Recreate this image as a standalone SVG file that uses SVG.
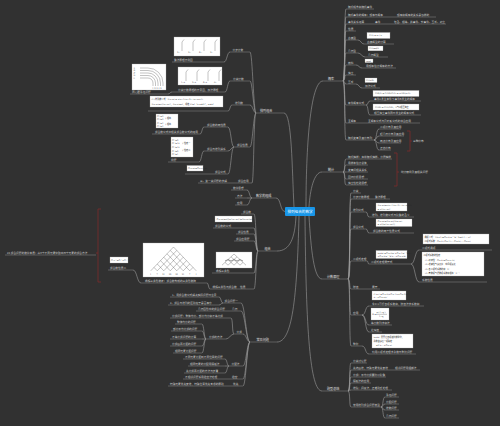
<svg xmlns="http://www.w3.org/2000/svg" width="500" height="426" viewBox="0 0 500 426">
<style>
.bg{fill:#313131}
.l{fill:none;stroke:#9c9c9c;stroke-width:.6}
.u{fill:none;stroke:#8c8c8c;stroke-width:.5}
.t{font-family:"Noto Sans CJK SC","Noto Sans",sans-serif;font-size:2.7px;fill:#cfcfcf}
.tb{font-family:"Noto Sans CJK SC","Noto Sans",sans-serif;font-size:3.1px;fill:#e2e2e2}
.b{fill:#fff;stroke:#aaa;stroke-width:.3}
.bt{font-family:"DejaVu Serif","Noto Sans CJK SC",serif;font-size:2.1px;fill:#222}
.g{fill:none;stroke:#333;stroke-width:.3}
.r{fill:none;stroke:#7d2b2b;stroke-width:.8}
</style>
<rect class="bg" width="500" height="426"/>
<g id="connectors" class="l">
<path d="M306 207C306 150 310 81 323 81"/>
<path d="M309 207C310 190 314 172 322 172"/>
<path d="M309 216C311 250 314 279 322 279"/>
<path d="M305 216C306 330 310 391 322 391"/>
<path d="M294 207C292 170 292 113 284 113"/>
<path d="M285 211.5C280 211.5 281 198 276 198"/>
<path d="M296 216C295 238 290 251 277 251"/>
<path d="M299 216C297 300 292 342 277 342"/>
<path d="M343 81C345.5 81 344 9 346 9M343 81C345.5 81 344 17 346 17M343 81C345.5 81 344 24 346 24M343 81C345.5 81 344 31 346 31M343 81C345.5 81 344 40 346 40M343 81C345.5 81 344 53 346 53M343 81C345.5 81 344 65 346 65M343 81C345.5 81 344 75 346 75M343 81C345.5 81 344 84 346 84M343 81C345.5 81 344 105 346 105M343 81C345.5 81 344 123 346 123M343 81C345.5 81 344 140 346 140"/>
<path d="M358 40C361 40 361 44 364 44M358 53C361 53 362 57 365 57M356 65C359 65 359 68 362 68M356 84C359 84 359 88 362 88M366 105C368.5 105 367.5 101 370 101M366 105C368.5 105 367.5 115 370 115M374 140C377 140 376 129 379 129M374 140C377 140 376 136 379 136M374 140C377 140 376 143 379 143M374 140C377 140 376 150 379 150"/>
<path d="M343 172C345.5 172 344 159 346 159M343 172C345.5 172 344 165 346 165M343 172H346M343 172C345.5 172 344 179 346 179M343 172C345.5 172 344 185 346 185"/>
<path d="M348 279C350.5 279 349 193 351 193M348 279C350.5 279 349 199 351 199M348 279C350.5 279 349 212 351 212M348 279C350.5 279 349 229 351 229M348 279C350.5 279 349 261 351 261M348 279C350.5 279 349 289 351 289M348 279C350.5 279 349 315 351 315M348 279C350.5 279 349 346 351 346"/>
<path d="M366 212C368 212 367 217 369 217M366 229C368 229 367 233 369 233M367 261C368.5 261 367.5 264 369 264M411 264C415 264 415 250 419 250M411 264C415 264 415 282 419 282M362 315C366 315 365 306 369 306M362 315C366 315 365 325 369 325M362 315C366 315 365 332 369 332M362 346C366 346 365 354 369 354"/>
<path d="M348 391C350.5 391 349 363 351 363M348 391C350.5 391 349 370 351 370M348 391C350.5 391 349 377 351 377M348 391C350.5 391 349 383 351 383M348 391C350.5 391 349 390 351 390M348 391C350.5 391 349 407 351 407"/>
<path d="M381 407C383.5 407 382.5 397 385 397M381 407C383.5 407 382.5 404 385 404M381 407C383.5 407 382.5 410 385 410M381 407C383.5 407 382.5 418 385 418"/>
<path d="M256 113C253.5 113 252.5 52 250 52M256 113C253.5 113 252.5 81 250 81M256 113C253.5 113 252.5 105 250 105M256 113C253.5 113 252.5 147 250 147M256 113C253.5 113 254 183 252 183"/>
<path d="M230 52C227 52 227 62 224 62M230 81C227.5 81 227.5 92 225 92M172 92C170 92 170 94 168 94M232 105C230 105 230 111 228 111M234 147C231 147 231 127 228 127M234 147C231 147 231 151 228 151M234 147C231 147 231 174 228 174M204 127C202 127 202 134 200 134M204 151C201.5 151 201.5 162 199 162"/>
<path d="M252 198C249.5 198 249.5 190 247 190M252 198H247M252 198C249.5 198 249.5 205 247 205"/>
<path d="M258 251C256 251 256 214 254 214M258 251C256 251 256 228 254 228M258 251C256 251 256 234 254 234M258 251C256 251 256 241 254 241M258 251C256 251 256 273 254 273M258 251C256 251 256 289 254 289"/>
<path d="M210 289C208.5 289 208.5 283 207 283M141 283C137 283 137 270 133 270"/>
<path d="M250 342C246 342 245 303 241 303M250 342C246 342 245 311 241 311M250 342C247 342 246 334 243 334M250 342C247 342 246 366 243 366M250 342C247 342 246 379 243 379M250 342C247 342 246 386 243 386"/>
<path d="M223 303C221 303 221 297 219 297M223 303C221 303 221 305 219 305M234 334C232 334 233 318 231 318M234 334C231 334 229 339 226 339M206 339C204 339 204 324 202 324M206 339C204 339 204 331 202 331M206 339H202M206 339C204 339 204 346 202 346M206 339C204 339 204 353 202 353M229 366C227 366 227 359 225 359M229 366H225M229 366C227 366 227 373 225 373"/>
</g>
<g id="center"><rect x="285" y="207" width="30" height="9" rx="1" fill="#1896e8"/><text x="300" y="212.8" text-anchor="middle" font-family="Noto Sans CJK SC,sans-serif" font-size="3.6" fill="#fff">排列组合的数学</text></g>

<g id="r1"><path class="u" d="M323 81H343"/><text class="tb" x="328" y="80">概率</text></g>
<g id="r1a"><path class="u" d="M346 9H374"/><text class="t" x="348" y="8.1">随机现象和随机事件</text></g>
<g id="r1b"><path class="u" d="M346 17H436"/><text class="t" x="348" y="16.1">随机事件的概率：频率与概率</text><text class="t" x="397" y="16.1">频率和概率的关系是怎样的</text></g>
<g id="r1c"><path class="u" d="M346 24H446"/><text class="t" x="348" y="23.1">事件关系运算</text><text class="t" x="375" y="23.1">事件</text><text class="t" x="394" y="23.1">包含、相等、并事件、交事件、互斥、对立</text></g>
<g id="r1d"><path class="u" d="M346 31H356"/><text class="t" x="348" y="30.1">性质</text></g>
<g id="r1e"><path class="u" d="M346 40H358"/><text class="t" x="348" y="39.1">古典型</text><rect class="b" x="367" y="32.5" width="23" height="6"/><text class="bt" x="369" y="36.3">P(A) = m / n</text><path class="u" d="M364 44H394"/><text class="t" x="367" y="43.1">古典概型的计算</text></g>
<g id="r1f"><path class="u" d="M346 53H358"/><text class="t" x="348" y="52.1">几何型</text><rect class="b" x="368" y="46" width="15" height="4.8"/><text class="bt" x="369" y="49.2">P(A)=d/D</text><path class="u" d="M365 57H388"/><text class="t" x="368" y="56.1">几何概型</text></g>
<g id="r1g"><path class="u" d="M346 65H356"/><text class="t" x="348" y="64.1">模拟</text><rect class="b" x="365" y="59" width="8" height="3.6"/><text class="bt" x="366" y="61.6">rand</text><path class="u" d="M362 68H396"/><text class="t" x="366" y="67.1">用频率估计概率的方法</text></g>
<g id="r1h"><path class="u" d="M346 75H356"/><text class="t" x="348" y="74.1">独立</text></g>
<g id="r1i"><path class="u" d="M346 84H356"/><text class="t" x="348" y="83.1">互斥</text><rect class="b" x="365" y="78" width="12" height="4.5"/><text class="bt" x="366" y="81">P(A+B)</text><path class="u" d="M362 88H380"/><text class="t" x="365" y="87.1">加法公式</text></g>
<g id="r1j"><path class="u" d="M346 105H366"/><text class="t" x="348" y="104.1">条件概率公式</text><rect class="b" x="373" y="90.5" width="46" height="6"/><text class="bt" x="375" y="94.3">P(B|A) = P(AB)/P(A) = n(AB)/n(A)</text><path class="u" d="M370 101H421"/><text class="t" x="374" y="100.1">事件A发生条件下事件B发生的概率</text><rect class="b" x="373" y="104" width="46" height="6"/><text class="bt" x="375" y="107.8">P(AB) = P(A)P(B)，A与B相互独立</text><path class="u" d="M370 115H421"/><text class="t" x="374" y="114.1">相互独立事件同时发生的概率公式</text></g>
<g id="r1k"><path class="u" d="M346 123H420"/><text class="t" x="348" y="122.1">全概率</text><text class="t" x="368" y="122.1">全概率公式与贝叶斯公式的综合应用</text></g>
<g id="r1l"><path class="u" d="M346 140H374"/><text class="t" x="348" y="139.1">随机变量及其分布列</text>
<path class="u" d="M379 129H401M379 136H404M379 143H401M379 150H391"/><text class="t" x="380" y="128.1">二项分布及其应用</text><text class="t" x="380" y="135.1">超几何分布及其应用</text><text class="t" x="380" y="142.1">两点分布及其应用</text><text class="t" x="380" y="149.1">正态分布</text>
<path class="r" d="M407 131H410V151H407M410 141H412"/><text class="t" x="413" y="141.5">三种分布</text></g>

<g id="r2"><path class="u" d="M322 172H343"/><text class="tb" x="328" y="171">统计</text></g>
<g id="r2c"><path class="u" d="M346 159H392M346 165H368M346 172H368M346 179H368M346 185H368"/><text class="t" x="348" y="158.1">随机抽样：简单随机抽样、分层抽样</text><text class="t" x="348" y="164.1">用样本估计总体</text><text class="t" x="348" y="171.1">变量间相关关系</text><text class="t" x="348" y="178.1">回归分析思想</text><text class="t" x="348" y="184.1">独立性检验思想</text>
<path class="r" d="M394 153H397V186H394M397 172H399"/><text class="t" x="401" y="173">统计案例及其相关问题</text></g>

<g id="r3"><path class="u" d="M322 279H348"/><text class="tb" x="327" y="278">计数原理</text></g>
<g id="r3a"><path class="u" d="M351 193H361"/><text class="t" x="353" y="192.1">分类</text></g>
<g id="r3b"><path class="u" d="M351 199H390"/><text class="t" x="353" y="198.1">分步计数原理</text><text class="t" x="375" y="198.1">乘法原理</text></g>
<g id="r3c"><path class="u" d="M351 212H366"/><text class="t" x="353" y="211.1">排列公式</text><rect class="b" x="376" y="203" width="31" height="8"/><text class="bt" x="377.5" y="206.3">A(n,m)=n(n−1)(n−2)…(n−m+1)</text><text class="bt" x="377.5" y="209.6">= n!/(n−m)!</text><path class="u" d="M369 217H414"/><text class="t" x="372" y="216.1">排列、排列数公式与阶乘的含义</text></g>
<g id="r3d"><path class="u" d="M351 229H366"/><text class="t" x="353" y="228.1">组合公式</text><rect class="b" x="376" y="219" width="36" height="7.5"/><text class="bt" x="377.5" y="222.3">C(n,m)=A(n,m)/A(m,m)</text><text class="bt" x="377.5" y="225.4">= n!/[m!(n−m)!]</text><path class="u" d="M369 233H414"/><text class="t" x="373" y="232.1">组合数的两个性质公式</text></g>
<g id="r3e"><path class="u" d="M351 261H367"/><text class="t" x="353" y="260.1">二项式定理</text><rect class="b" x="376" y="250.5" width="31" height="8"/><text class="bt" x="377.5" y="253.8">(a+b)ⁿ=C(n,0)aⁿ+C(n,1)aⁿ⁻¹b+…</text><text class="bt" x="377.5" y="257.1">+C(n,k)aⁿ⁻ᵏbᵏ+…+C(n,n)bⁿ</text><path class="u" d="M369 264H411"/><text class="t" x="371" y="263.1">二项式定理展开式</text></g>
<g id="r3e1"><rect class="b" x="423" y="234" width="66" height="10"/><text class="bt" x="424.5" y="238">通项公式：T(k+1)=C(n,k)aⁿ⁻ᵏbᵏ（k=0,1,…,n）</text><text class="bt" x="424.5" y="242">二项式系数：C(n,0),C(n,1),…,C(n,k),…,C(n,n)</text><path class="u" d="M419 250H492"/><text class="t" x="422" y="249.1">二项式通项</text></g>
<g id="r3e2"><rect class="b" x="422" y="252" width="62" height="24"/><text class="bt" x="423.5" y="256">二项式系数的性质：</text><text class="bt" x="425" y="260.5">(1) 对称性：C(n,k)=C(n,n−k)</text><text class="bt" x="425" y="265">(2) 增减性与最大值：中间项最大</text><text class="bt" x="425" y="269.5">(3) 各二项式系数的和：2ⁿ</text><text class="bt" x="425" y="274">(4) 奇数项与偶数项系数和相等：2ⁿ⁻¹</text><path class="u" d="M419 282H487"/><text class="t" x="422" y="281.1">系数性质</text></g>
<g id="r3f"><path class="u" d="M351 289H380"/><text class="t" x="353" y="288.1">赋值</text><text class="t" x="372" y="288.1">展开</text></g>
<g id="r3g"><path class="u" d="M351 315H362"/><text class="t" x="353" y="314.1">应用</text></g>
<g id="r3g1"><rect class="b" x="372" y="291" width="34" height="9"/><text class="bt" x="373.5" y="294.6">(1+x)ⁿ=C(n,0)+C(n,1)x+C(n,2)x²</text><text class="bt" x="373.5" y="298.2">+…+C(n,n)xⁿ</text><path class="u" d="M369 306H424"/><text class="t" x="372" y="305.1">令x=1可得各项系数和，赋值法求系数和</text></g>
<g id="r3g2"><rect class="b" x="371" y="308" width="18" height="12"/><text class="bt" x="372.3" y="315">Sₙ=</text><text class="bt" x="376.5" y="313.2">a₁(1−qⁿ)</text><path class="g" d="M376 314.3H387"/><text class="bt" x="379" y="317.4">1−q</text><path class="u" d="M369 325H392"/><text class="t" x="371" y="324.1">等比数列求和法</text></g>
<g id="r3g3"><path class="u" d="M369 332H382"/><text class="t" x="371" y="331.1">近似值</text></g>
<g id="r3h"><path class="u" d="M351 346H362"/><text class="t" x="353" y="345.1">整除</text><rect class="b" x="372" y="334" width="41" height="14"/><text class="bt" x="373.5" y="338">(a+b)ⁿ 展开后各项被除数整除，</text><text class="bt" x="373.5" y="341.8">余数由最后一项确定：</text><text class="bt" x="376" y="345.6">=9ᵏ+…+C(n,n)</text><path class="u" d="M369 354H416"/><text class="t" x="372" y="353.1">利用二项式定理求余数与整除问题</text></g>

<g id="r4"><path class="u" d="M322 391H348"/><text class="tb" x="327" y="389.8">题型总结</text></g>
<g id="r4c"><path class="u" d="M351 363H367M351 370H420M351 377H386M351 383H371M351 390H392M351 407H381"/><text class="t" x="353" y="362.1">分类讨论题</text><text class="t" x="353" y="369.1">先选后排，特殊元素优先安排</text><text class="t" x="395" y="369.1">相邻问题用捆绑法</text><text class="t" x="353" y="376.1">分组：平均分组要除以阶乘</text><text class="t" x="353" y="382.1">隔板法的应用</text><text class="t" x="353" y="389.1">排队：间接法，正难则反处理</text><text class="t" x="353" y="406.1">常用排列组合问题模型</text>
<path class="u" d="M385 397H399M385 404H399M385 410H399M385 418H399"/><text class="t" x="386" y="396.1">涂色问题</text><text class="t" x="386" y="403.1">分配问题</text><text class="t" x="386" y="409.1">排数问题</text><text class="t" x="386" y="417.1">几何问题</text></g>

<g id="a"><path class="u" d="M256 113H284"/><text class="tb" x="260" y="111.8">排列组合</text></g>
<g id="a1"><path class="u" d="M230 52H250"/><text class="t" x="232.5" y="51.1">分步计数</text></g>
<g id="a1c"><rect class="b" x="174" y="37" width="46" height="19"/><path class="g" d="M182 51V42l2 -2.5M193 51V42l2 -2.5M204 51V42l2 -2.5M215 51V42l2 -2.5"/><text class="bt" x="177" y="52.5">2ₘ·</text><text class="bt" x="188" y="52.5">3ₘ·</text><text class="bt" x="199" y="52.5">6ₘ·</text><text class="bt" x="210" y="52.5">3ₘ</text><path class="u" d="M172 62H224"/><text class="t" x="174" y="61.1">乘法原理示例图</text></g>
<g id="a2"><path class="u" d="M230 81H250"/><text class="t" x="233" y="80.1">分类计数</text></g>
<g id="a2c"><rect class="b" x="178" y="67" width="44" height="18"/><path class="g" d="M186 81V72l2 -2.5M197 81V72l2 -2.5M208 81V72l2 -2.5M219 81V72l2 -2.5"/><text class="bt" x="181" y="82.5">1ₘ+</text><text class="bt" x="192" y="82.5">2ₘ+</text><text class="bt" x="203" y="82.5">6ₘ+</text><text class="bt" x="214" y="82.5">0ₘ</text><path class="u" d="M172 92H225"/><text class="t" x="178" y="91.1">分类计数原理的示意图，加法原理</text></g>
<g id="a2g"><rect class="b" x="132" y="64" width="34" height="26"/><path class="g" d="M140 68H148A15 15 0 0 1 163 83V86M140 70.5H148A12.5 12.5 0 0 1 160.5 83V86M140 73H148A10 10 0 0 1 158 83V86M140 75.5H148A7.5 7.5 0 0 1 155.5 83V86M140 78H148A5 5 0 0 1 153 83V86"/><text class="bt" x="133.5" y="68.7">A</text><text class="bt" x="133.5" y="71.2">B</text><text class="bt" x="133.5" y="73.7">C</text><text class="bt" x="133.5" y="76.2">D</text><text class="bt" x="133.5" y="78.7">E</text><text class="bt" x="152.3" y="88.7">1  2  3  4  5</text><path class="u" d="M130 94H168"/><text class="t" x="132" y="93.1">同心圆涂色问题</text></g>
<g id="a3"><path class="u" d="M232 105H250"/><text class="t" x="235" y="104.1">排列数</text></g>
<g id="a3c"><rect class="b" x="150" y="96" width="73" height="11"/><text class="bt" x="151.5" y="100.3">(1) 排列数公式：A(n,m) = n(n−1)(n−2)…(n−m+1)</text><text class="bt" x="151.5" y="104.6">A(n,m)=n!/(n−m)!，A(n,n)=n!，规定 0!=1（n,m∈N*，m≤n）</text><path class="u" d="M148 111H228"/></g>
<g id="a4"><path class="u" d="M234 147H250"/><text class="t" x="237" y="146.1">组合性质</text></g>
<g id="a4a"><path class="u" d="M204 127H228"/><text class="t" x="207" y="126.1">组合数的两性质</text><rect class="b" x="156" y="114" width="22" height="14"/><text class="bt" x="157" y="117">C₃¹=3</text><text class="bt" x="157" y="120.3">C₃²=3</text><text class="bt" x="157" y="123.6">C₄¹=4</text><text class="bt" x="157" y="126.9">C₄³=4</text><text class="bt" x="165" y="118.7">} 相等</text><text class="bt" x="165" y="125.3">} 相等</text><path class="u" d="M152 134H200"/><text class="t" x="155" y="133.1">组合数公式中相关组合数公式的运用</text></g>
<g id="a4b"><path class="u" d="M204 151H228"/><text class="t" x="207" y="150.1">组合与排列关系</text><rect class="b" x="171" y="137" width="22" height="20"/><text class="bt" x="172" y="140.5">C₅¹=5</text><text class="bt" x="172" y="144.2">C₅²=10</text><text class="bt" x="172" y="147.9">C₅³=10</text><text class="bt" x="172" y="151.6">C₅⁴=5</text><text class="bt" x="172" y="155.3">C₅⁵=1</text><text class="bt" x="182" y="144">} 性质一</text><text class="bt" x="182" y="151">} 性质二</text><path class="u" d="M168 162H199"/><text class="t" x="171" y="161.1">例题</text></g>
<g id="a4c"><path class="u" d="M185 174H228"/><rect class="b" x="187" y="165.5" width="16" height="5.5"/><text class="bt" x="188" y="168.9">C(n,m)=C(n,n−m)</text><text class="t" x="215" y="173.1">组合公式</text></g>
<g id="a5"><path class="u" d="M198 183H252"/><text class="t" x="200" y="182.1">三、第一类问题的求解</text><text class="t" x="238" y="182.1">组合应用</text></g>

<g id="b"><path class="u" d="M252 198H276"/><text class="tb" x="256" y="196.8">数学的组成</text></g>
<g id="b1"><path class="u" d="M231 190H247"/><text class="t" x="233" y="189.1">数学思想</text></g>
<g id="b2"><path class="u" d="M235 198H247"/><text class="t" x="237" y="197.1">方法</text></g>
<g id="b3"><path class="u" d="M235 205H247"/><text class="t" x="237" y="204.1">应用</text></g>

<g id="c"><path class="u" d="M258 251H277"/><text class="tb" x="264.5" y="249.8">组合</text></g>
<g id="c1"><path class="u" d="M241 214H254"/><text class="t" x="243" y="213.1">组合数</text></g>
<g id="c2"><rect class="b" x="215" y="216" width="37" height="6"/><text class="bt" x="216.5" y="219.7">C(n,m)=n!/[m!(n−m)!]=A(n,m)/m!</text><path class="u" d="M213 228H254"/><text class="t" x="215" y="227.1">组合数的公式</text></g>
<g id="c3"><path class="u" d="M236 234H254"/><text class="t" x="238" y="233.1">组合性质</text></g>
<g id="c4"><path class="u" d="M234 241H254"/><text class="t" x="236" y="240.1">组合应用题</text></g>
<g id="c5"><rect class="b" x="216" y="252" width="36" height="16"/><path class="g" d="M234 254L222 265.2M237 256.8L228 265.2M240 259.6L234 265.2M243 262.4L240 265.2M234 254L246 265.2M231 256.8L240 265.2M228 259.6L234 265.2M225 262.4L228 265.2"/><path d="M225 261l3 -1.4 3 1.4 3 -1.4 3 1.4 3 -1.4 3 1.4" fill="none" stroke="#555" stroke-width=".6"/><path class="u" d="M212 273H254"/><text class="t" x="216" y="272.1">杨辉三角形</text></g>
<g id="c7"><path class="u" d="M210 289H254"/><text class="t" x="212.5" y="288.1">杨辉三角形与组合数</text><text class="t" x="240" y="288.1">性质</text></g>
<g id="c6"><rect class="b" x="143" y="243" width="61" height="34"/><path class="g" d="M173.5 247L150.75 270.8M176.75 250.4L157.25 270.8M180 253.8L163.75 270.8M183.25 257.2L170.25 270.8M186.5 260.6L176.75 270.8M189.75 264L183.25 270.8M193 267.4L189.75 270.8M173.5 247L196.25 270.8M170.25 250.4L189.75 270.8M167 253.8L183.25 270.8M163.75 257.2L176.75 270.8M160.5 260.6L170.25 270.8M157.25 264L163.75 270.8M154 267.4L157.25 270.8"/><text class="bt" x="150" y="274.5">1</text><text class="bt" x="156.5" y="274.5">7</text><text class="bt" x="162.3" y="274.5">21</text><text class="bt" x="168.8" y="274.5">35</text><text class="bt" x="175.3" y="274.5">35</text><text class="bt" x="181.8" y="274.5">21</text><text class="bt" x="189" y="274.5">7</text><text class="bt" x="195.5" y="274.5">1</text><path class="u" d="M141 283H207"/><text class="t" x="145" y="282.1">杨辉三角形数表：组合数构成的三角形数阵</text></g>
<g id="c8"><rect class="b" x="110" y="257" width="18" height="6"/><text class="bt" x="111" y="261.2" font-size="2.6">Cₙ₊₁ᵐ=Cₙᵐ+Cₙᵐ⁻¹</text><path class="u" d="M108 270H133"/><text class="t" x="110" y="269.1">组合数性质二</text></g>
<g id="csum"><path class="r" d="M101 209H98V282H101M98 253H96"/><path class="u" d="M5 255H96"/><text class="t" x="7" y="253.5">24.组合问题的数学本质：从n个不同元素中取出m个元素的组合方法</text></g>

<g id="d"><path class="u" d="M250 342H277"/><text class="tb" x="256.5" y="340.8">常见问题</text></g>
<g id="d1"><path class="u" d="M223 303H241"/><text class="t" x="224.5" y="302.1">组合问题一</text><path class="u" d="M170 297H219M168 305H219"/><text class="t" x="172" y="296.1">1、用组合数公式解决实际问题时注意</text><text class="t" x="170" y="304.1">2、组合与排列的区别在于是否有序</text></g>
<g id="d2"><path class="u" d="M196 311H241"/><text class="t" x="198" y="310.1">几何图形中的组合问题</text><text class="t" x="232" y="310.1">几何</text></g>
<g id="d3"><path class="u" d="M234 334H243"/><text class="t" x="236.5" y="333.1">分组</text></g>
<g id="d3a"><path class="u" d="M170 318H231"/><text class="t" x="172" y="317.1">分组问题：整体均分、部分均分和不等分组</text></g>
<g id="d3b"><path class="u" d="M206 339H226"/><text class="t" x="209" y="338.1">分组的方法</text><path class="u" d="M175 324H202M171 331H202M170 339H202M170 346H202M173 353H202"/><text class="t" x="177" y="323.1">整体均分的问题</text><text class="t" x="173" y="330.1">部分平均分组的问题</text><text class="t" x="172" y="338.1">不等分组问题的计算</text><text class="t" x="172" y="345.1">分组后再分配的问题</text><text class="t" x="175" y="352.1">相同元素分配问题</text></g>
<g id="d4"><path class="u" d="M229 366H243"/><text class="t" x="231.5" y="365.1">分配法</text><path class="u" d="M183 359H225M188 366H225M184 373H225"/><text class="t" x="185" y="358.1">不同元素分配到不同位置的问题</text><text class="t" x="190" y="365.1">相同元素的分配用隔板法</text><text class="t" x="186" y="372.1">先分组再分配的方法与步骤</text></g>
<g id="d5"><path class="u" d="M183 379H243"/><text class="t" x="185" y="378.1">不相邻问题采用插空法处理</text><text class="t" x="232" y="378.1">插空</text></g>
<g id="d6"><path class="u" d="M168 386H243"/><text class="t" x="170" y="385.1">特殊元素优先安排，特殊位置优先考虑的原则</text><text class="t" x="233" y="385.1">优先</text></g>
</svg>
